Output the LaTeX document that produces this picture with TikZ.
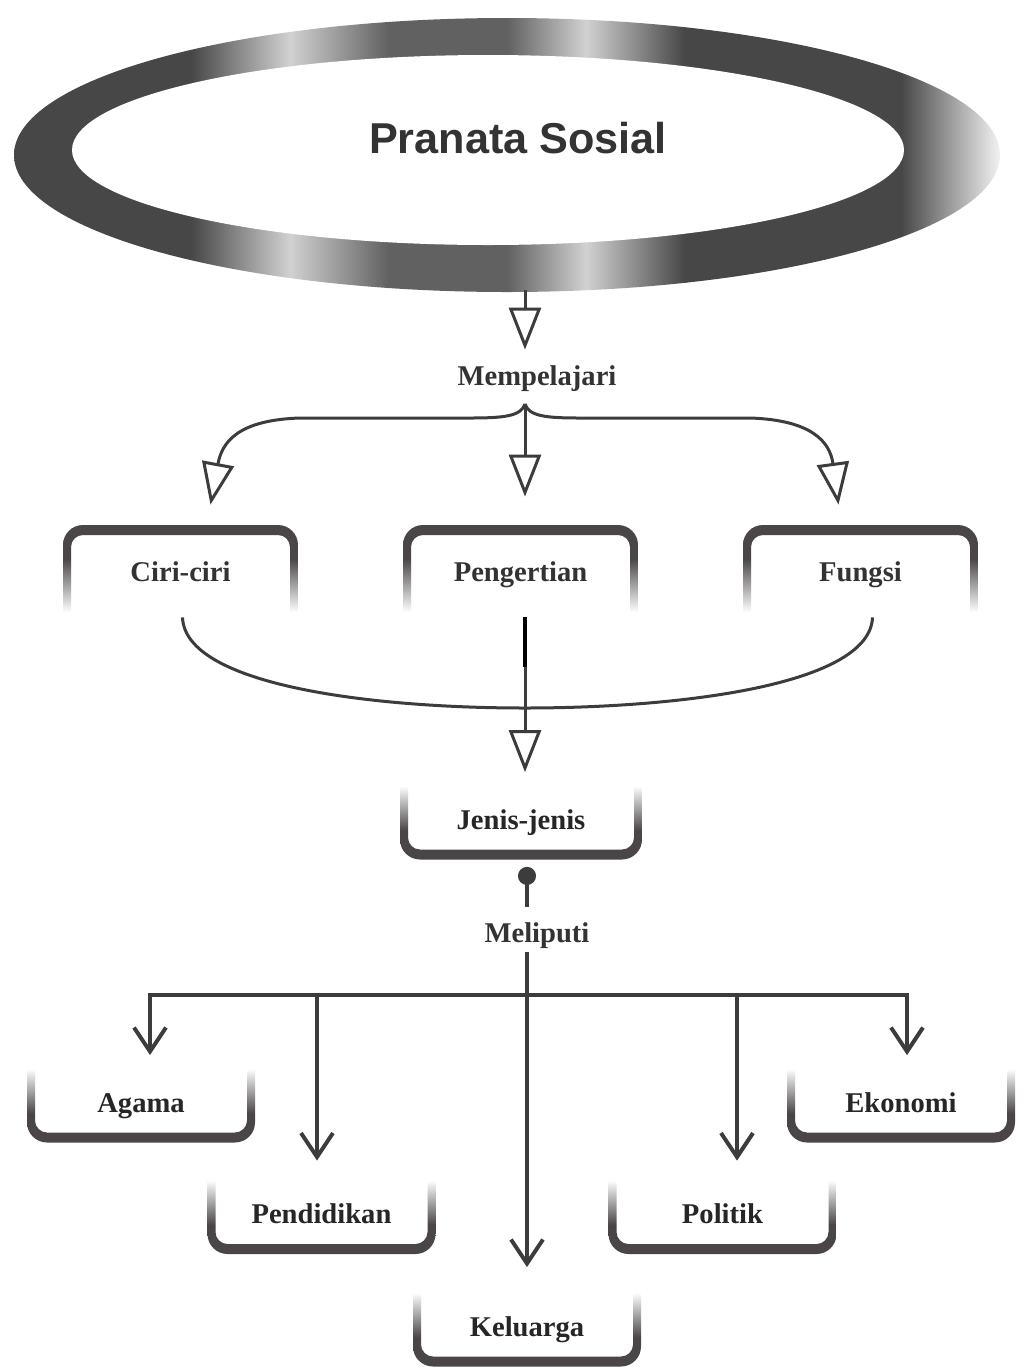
\documentclass[tikz,border=0pt]{standalone}
\usepackage{fontspec}
\setmainfont{Liberation Serif}
\newfontfamily\judulfont{Liberation Sans}
\usetikzlibrary{arrows.meta}
\definecolor{garisabu}{HTML}{3C3C3C}
\definecolor{bingkai}{HTML}{4A4648}
\definecolor{teks}{HTML}{333333}
\definecolor{gelap}{gray}{0.28}
\definecolor{gelapb}{gray}{0.38}
\definecolor{terang}{gray}{0.82}
\definecolor{pucat}{gray}{0.95}
\pgfdeclarehorizontalshading{cincin}{100bp}{color(0bp)=(gelap); color(25bp)=(gelap);
  color(34bp)=(gelap); color(39bp)=(terang); color(44bp)=(gelapb); color(50bp)=(gelapb);
  color(54bp)=(terang); color(59bp)=(gelap); color(70bp)=(gelap); color(75bp)=(pucat);
  color(100bp)=(pucat)}
\pgfdeclareverticalshading{pudarbawah}{100bp}{color(0bp)=(white); color(36bp)=(white);
  color(60bp)=(bingkai); color(100bp)=(bingkai)}
\pgfdeclareverticalshading{pudaratas}{100bp}{color(0bp)=(bingkai); color(40bp)=(bingkai);
  color(63bp)=(white); color(100bp)=(white)}
\tikzset{
  tulisan/.style={font=\fontsize{14.3}{16}\selectfont\bfseries, text=teks, inner sep=0pt,
    text height=10pt, text depth=0pt},
  kotakatas/.style={tulisan, fill=white, minimum width=117.5pt, minimum height=46pt,
    path picture={\shade[shading=pudarbawah, even odd rule]
      [rounded corners=10pt] ([yshift=-10pt]path picture bounding box.south west)
        rectangle (path picture bounding box.north east)
      [rounded corners=6pt] ([xshift=4pt,yshift=-10pt]path picture bounding box.south west)
        rectangle ([xshift=-4pt,yshift=-5pt]path picture bounding box.north east);}},
  kotakbawah/.style={tulisan, text=black!85, text depth=2pt, fill=white, minimum width=114pt,
    minimum height=38.5pt,
    path picture={\shade[shading=pudaratas, even odd rule]
      [rounded corners=10pt] (path picture bounding box.south west)
        rectangle ([yshift=10pt]path picture bounding box.north east)
      [rounded corners=6pt] ([xshift=4pt,yshift=5pt]path picture bounding box.south west)
        rectangle ([xshift=-4pt,yshift=10pt]path picture bounding box.north east);}},
  garis/.style={draw=garisabu, line width=1.5pt},
  segitiga/.style={garis, -{Triangle[fill=white, length=21pt, width=16pt]}},
  panah/.style={garis, line width=2pt, -{Straight Barb[length=12pt, width=16pt]}}
}
\begin{document}
\begin{tikzpicture}[x=0.5pt, y=-0.5pt]
\useasboundingbox (0,0) rectangle (1026,1372);
% judul
\shade[shading=cincin] (507,155) ellipse [x radius=493, y radius=137];
\fill[white] (488,150) ellipse [x radius=416, y radius=95];
\node[font=\judulfont\bfseries\fontsize{21.6}{24}\selectfont, text=teks] (judul) at (518,138) {Pranata Sosial};
\coordinate (ujung) at (525,290);
\node[tulisan] (pel) at (537,375) {Mempelajari};
\coordinate (cabang) at (525,404);

% kotak atas
\node[kotakatas] (ciri) at (180.5,571) {Ciri-ciri};
\node[kotakatas] (peng) at (520.5,571) {Pengertian};
\node[kotakatas] (fungsi) at (860.5,571) {Fungsi};

\node[kotakbawah, minimum width=121pt] (jenis) at (521,821) {Jenis-jenis};
\node[tulisan] (meli) at (537,932) {Meliputi};
\coordinate (bagi) at (527,995);

% kotak bawah
\node[kotakbawah] (agama) at (141,1104) {Agama};
\node[kotakbawah] (ekonomi) at (901,1104) {Ekonomi};
\node[kotakbawah] (didik) at (321.5,1215.5) {Pendidikan};
\node[kotakbawah] (politik) at (722.5,1215.5) {Politik};
\node[kotakbawah] (keluarga) at (527,1328) {Keluarga};

% panah atas
\draw[segitiga, shorten >=7.5pt] (ujung) -- (ujung |- pel.north);
\draw[segitiga] (cabang) -- ([xshift=2.25pt,yshift=14pt]peng.north);
\draw[segitiga] (cabang) .. controls (521,416) and (505,418) .. (470,418) -- (300,418)
  .. controls (238,420) and (222,442) .. ([xshift=15pt,yshift=10pt]ciri.north);
\draw[segitiga] (cabang) .. controls (529,416) and (545,418) .. (580,418) -- (750,418)
  .. controls (812,420) and (830,442) .. ([xshift=-11pt,yshift=10pt]fungsi.north);

% ke jenis-jenis
\draw[garis] ([xshift=1pt]ciri.south) .. controls (185,685) and (370,708) .. (525,708)
  .. controls (680,708) and (870,685) .. ([xshift=6pt]fungsi.south);
\draw[segitiga] ([xshift=2.25pt]peng.south) -- ([xshift=2pt,yshift=5pt]jenis.north);
\draw[line width=2.4pt, black] ([xshift=2.25pt]peng.south) -- ++(0,50);

% meliputi
\draw[garis, line width=2pt, {Circle[length=9pt]}-, shorten <=3.5pt, shorten >=7.5pt]
  ([xshift=3pt]jenis.south) -- ([xshift=-5pt]meli.north);
\draw[panah, shorten <=5pt] ([xshift=-5pt]meli.south) -- ([yshift=11pt]keluarga.north);
\draw[panah] (bagi) -| ([xshift=4.5pt,yshift=5pt]agama.north);
\draw[panah] (bagi) -| ([xshift=-2.25pt,yshift=8pt]didik.north);
\draw[panah] (bagi) -| ([xshift=7.25pt,yshift=8pt]politik.north);
\draw[panah] (bagi) -| ([xshift=3pt,yshift=5pt]ekonomi.north);
\end{tikzpicture}
\end{document}
